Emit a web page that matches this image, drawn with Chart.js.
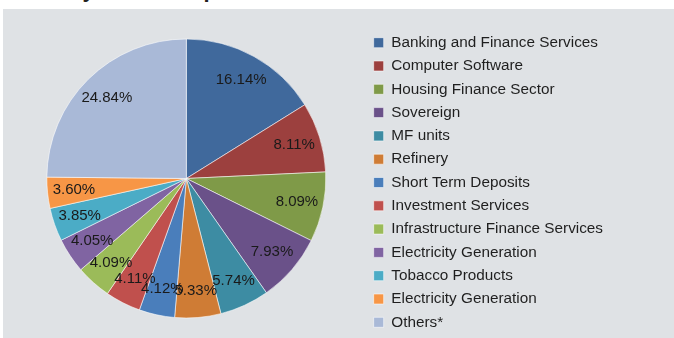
<!DOCTYPE html>
<html>
<head>
<meta charset="utf-8">
<script src="https://cdn.jsdelivr.net/npm/chart.js@4.4.0/dist/chart.umd.min.js"></script>
<style>
  html, body { margin: 0; padding: 0; background: #ffffff; overflow: hidden; }
  body { width: 674px; height: 338px; position: relative; font-family: "Liberation Sans", Arial, sans-serif; }
  .heading {
    position: absolute; left: 8px; top: -21px; line-height: 22px;
    font-size: 22px; font-weight: bold; color: #231f20; white-space: nowrap;
  }
  .panel { position: absolute; left: 3px; top: 9px; width: 671px; height: 329px; background: #dfe2e5; }
</style>
</head>
<body>
<div class="heading">Industry wise Composition</div>
<div class="panel"><canvas id="sectorChart" width="671" height="329"></canvas></div>
<script>
  // Sector split of the portfolio, in percent
  const sectors = [
    'Banking and Finance Services', 'Computer Software', 'Housing Finance Sector',
    'Sovereign', 'MF units', 'Refinery', 'Short Term Deposits', 'Investment Services',
    'Infrastructure Finance Services', 'Electricity Generation', 'Tobacco Products',
    'Electricity Generation', 'Others*'
  ];
  const shares = [16.14, 8.11, 8.09, 7.93, 5.74, 5.33, 4.12, 4.11, 4.09, 4.05, 3.85, 3.60, 24.84];
  const sliceColors = [
    '#40699c', '#9c403e', '#7f9a48', '#6a5189', '#3d8ca3', '#cf7c35', '#4a7ebb',
    '#c0504d', '#9bbb59', '#8064a2', '#4bacc6', '#f79646', '#a9b9d7'
  ];

  // Writes the percentage inside every slice
  const sliceLabels = {
    id: 'sliceLabels',
    afterDatasetsDraw(chart) {
      const ctx = chart.ctx;
      const meta = chart.getDatasetMeta(0);
      ctx.save();
      ctx.font = '15px "Liberation Sans", Arial, sans-serif';
      ctx.fillStyle = '#1a1a1a';
      ctx.textAlign = 'center';
      ctx.textBaseline = 'middle';
      meta.data.forEach((arc, i) => {
        const p = arc.getProps(['x', 'y', 'startAngle', 'endAngle', 'outerRadius'], true);
        const mid = (p.startAngle + p.endAngle) / 2;
        const r = p.outerRadius * 0.81;
        ctx.fillText(shares[i].toFixed(2) + '%', p.x + Math.cos(mid) * r, p.y + Math.sin(mid) * r);
      });
      ctx.restore();
    }
  };

  const ctx = document.getElementById('sectorChart').getContext('2d');
  const sectorChart = new Chart(ctx, {
    type: 'pie',
    data: {
      labels: sectors,
      datasets: [{
        data: shares,
        backgroundColor: sliceColors,
        borderColor: 'rgba(255,255,255,0.55)',
        borderWidth: 1,
        hoverOffset: 0
      }]
    },
    options: {
      responsive: false,
      animation: false,
      radius: 139.5,
      layout: { padding: { left: 4, right: 61, top: 10, bottom: 0 } },
      plugins: {
        tooltip: { enabled: false },
        legend: {
          position: 'right',
          // empty title only pushes the list down a few pixels
          title: { display: true, text: '', padding: { top: 7, bottom: 0 }, font: { size: 1, lineHeight: 1 } },
          labels: {
            boxWidth: 10,
            boxHeight: 10,
            padding: 8,
            color: '#1f1f1f',
            font: { family: '"Liberation Sans", Arial, sans-serif', size: 15.3 }
          }
        }
      }
    },
    plugins: [sliceLabels]
  });
</script>
</body>
</html>
